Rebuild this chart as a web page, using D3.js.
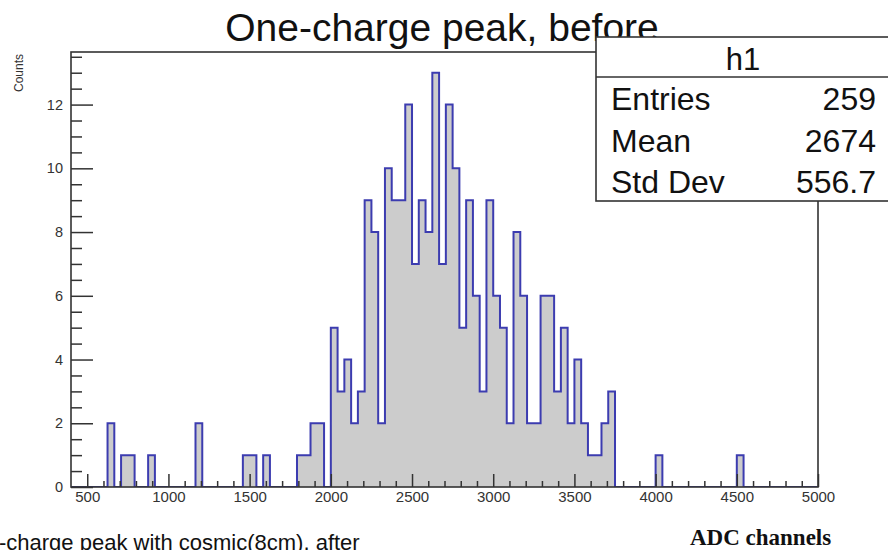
<!DOCTYPE html>
<html>
<head>
<meta charset="utf-8">
<script src="https://cdn.jsdelivr.net/npm/d3@7"></script>
<style>
  html, body { margin: 0; padding: 0; background: #fff; }
  svg { display: block; }
</style>
</head>
<body>
<script>
// histogram h1: 120 bins over [0, 5000], only 400..5000 shown
const histMin = 0;
const histMax = 5000;
const counts = [
  0, 0, 0, 0, 0, 0, 0, 0, 0, 0,
  0, 0, 0, 0, 0, 2, 0, 1, 1, 0,
  0, 1, 0, 0, 0, 0, 0, 0, 2, 0,
  0, 0, 0, 0, 0, 1, 1, 0, 1, 0,
  0, 0, 0, 1, 1, 2, 2, 0, 5, 3,
  4, 2, 3, 9, 8, 2, 10, 9, 9, 12,
  7, 9, 8, 13, 7, 12, 10, 5, 9, 6,
  3, 9, 6, 5, 2, 8, 6, 2, 2, 6,
  6, 3, 5, 2, 4, 2, 1, 1, 2, 3,
  0, 0, 0, 0, 0, 0, 1, 0, 0, 0,
  0, 0, 0, 0, 0, 0, 0, 0, 1, 0,
  0, 0, 0, 0, 0, 0, 0, 0, 0, 0
];
const xRange = [400, 5000];
const yRange = [0, 13.65];
const xMajorTicks = [500, 1000, 1500, 2000, 2500, 3000, 3500, 4000, 4500, 5000];
const yMajorTicks = [0, 2, 4, 6, 8, 10, 12];
const statLabels = ["Entries", "Mean", "Std Dev"];
const statValues = ["259", "2674", "556.7"];

const width = 888;
const height = 550;
const frame = { left: 71, right: 818, top: 52, bottom: 487 };
const sans = '"Liberation Sans", Arial, Helvetica, sans-serif';
const serif = '"Liberation Serif", "Times New Roman", serif';

const svg = d3.select('body')
  .append('svg')
  .attr('width', width)
  .attr('height', height)
  .style('font-family', sans);

const x = d3.scaleLinear().domain(xRange).range([frame.left, frame.right]);
const y = d3.scaleLinear().domain(yRange).range([frame.bottom, frame.top]);

svg.append('defs').append('clipPath')
  .attr('id', 'frame-clip')
  .append('rect')
  .attr('x', frame.left)
  .attr('y', frame.top)
  .attr('width', frame.right - frame.left)
  .attr('height', frame.bottom - frame.top);

// step outline of the histogram
const binW = (histMax - histMin) / counts.length;
const pts = [[histMin, 0]];
counts.forEach((c, i) => {
  const lo = histMin + i * binW;
  pts.push([lo, c], [lo + binW, c]);
});
pts.push([histMax, 0]);

const line = d3.line().x((d) => x(d[0])).y((d) => y(d[1]));

const hist = svg.append('g').attr('clip-path', 'url(#frame-clip)');
hist.append('path')
  .attr('d', line(pts))
  .attr('fill', '#cccccc')
  .attr('stroke', 'none');
hist.append('path')
  .attr('d', line(pts))
  .attr('fill', 'none')
  .attr('stroke', '#3c3cb0')
  .attr('stroke-width', 2);

// axes (ticks point into the frame, ROOT style)
const axisColor = '#333';

const xMinor = d3.range(500, 5001, 100).filter((v) => v % 500 !== 0);
svg.append('g')
  .attr('transform', `translate(0,${frame.bottom})`)
  .call(d3.axisBottom(x).tickValues(xMinor).tickSize(-6).tickFormat(''))
  .call((g) => g.select('.domain').remove());
const xAxis = svg.append('g')
  .attr('transform', `translate(0,${frame.bottom})`)
  .call(d3.axisBottom(x).tickValues(xMajorTicks).tickSize(-13).tickPadding(4).tickFormat(d3.format('d')))
  .call((g) => g.select('.domain').remove());
xAxis.selectAll('text')
  .style('font-family', sans)
  .style('font-size', '15px')
  .attr('fill', axisColor);

const yMinor = d3.range(0.5, 13.6, 0.5).filter((v) => v % 2 !== 0);
svg.append('g')
  .attr('transform', `translate(${frame.left},0)`)
  .call(d3.axisLeft(y).tickValues(yMinor).tickSize(-11).tickFormat(''))
  .call((g) => g.select('.domain').remove());
const yAxis = svg.append('g')
  .attr('transform', `translate(${frame.left},0)`)
  .call(d3.axisLeft(y).tickValues(yMajorTicks).tickSize(-22).tickPadding(8))
  .call((g) => g.select('.domain').remove());
yAxis.selectAll('text')
  .style('font-family', sans)
  .style('font-size', '14.5px')
  .attr('fill', axisColor);

svg.selectAll('.tick line')
  .attr('stroke', axisColor)
  .attr('stroke-width', 1.5);

// frame
svg.append('rect')
  .attr('x', frame.left)
  .attr('y', frame.top)
  .attr('width', frame.right - frame.left)
  .attr('height', frame.bottom - frame.top)
  .attr('fill', 'none')
  .attr('stroke', axisColor)
  .attr('stroke-width', 1.6);

// y title
svg.append('text')
  .attr('transform', `translate(23,${frame.top + 2}) rotate(-90)`)
  .attr('text-anchor', 'end')
  .style('font-size', '12px')
  .attr('fill', axisColor)
  .text('Counts');

// title
svg.append('text')
  .attr('x', 442)
  .attr('y', 41)
  .attr('text-anchor', 'middle')
  .style('font-size', '39px')
  .attr('fill', '#111')
  .text('One-charge peak, before');

// stats box
const box = svg.append('g');
box.append('rect')
  .attr('x', 596)
  .attr('y', 37)
  .attr('width', 320)
  .attr('height', 164)
  .attr('fill', '#fff')
  .attr('stroke', axisColor)
  .attr('stroke-width', 1.6);
box.append('line')
  .attr('x1', 596).attr('x2', 900)
  .attr('y1', 77).attr('y2', 77)
  .attr('stroke', axisColor)
  .attr('stroke-width', 1.6);
box.append('text')
  .attr('x', 743)
  .attr('y', 70)
  .attr('text-anchor', 'middle')
  .style('font-size', '31px')
  .attr('fill', '#111')
  .text('h1');
statLabels.forEach((s, i) => {
  box.append('text')
    .attr('x', 611)
    .attr('y', 110 + i * 41.5)
    .style('font-size', '32px')
    .attr('fill', '#111')
    .text(s);
  box.append('text')
    .attr('x', 876)
    .attr('y', 110 + i * 41.5)
    .attr('text-anchor', 'end')
    .style('font-size', '32px')
    .attr('fill', '#111')
    .text(statValues[i]);
});

// text from the neighbouring slide content (cut by the picture edges)
svg.append('text')
  .attr('x', -1)
  .attr('y', 550)
  .style('font-size', '22px')
  .attr('fill', '#111')
  .text('-charge peak with cosmic(8cm), after');

svg.append('text')
  .attr('x', 690)
  .attr('y', 545)
  .style('font-family', serif)
  .style('font-weight', 'bold')
  .style('font-size', '23px')
  .attr('fill', '#111')
  .text('ADC channels');
</script>
</body>
</html>
